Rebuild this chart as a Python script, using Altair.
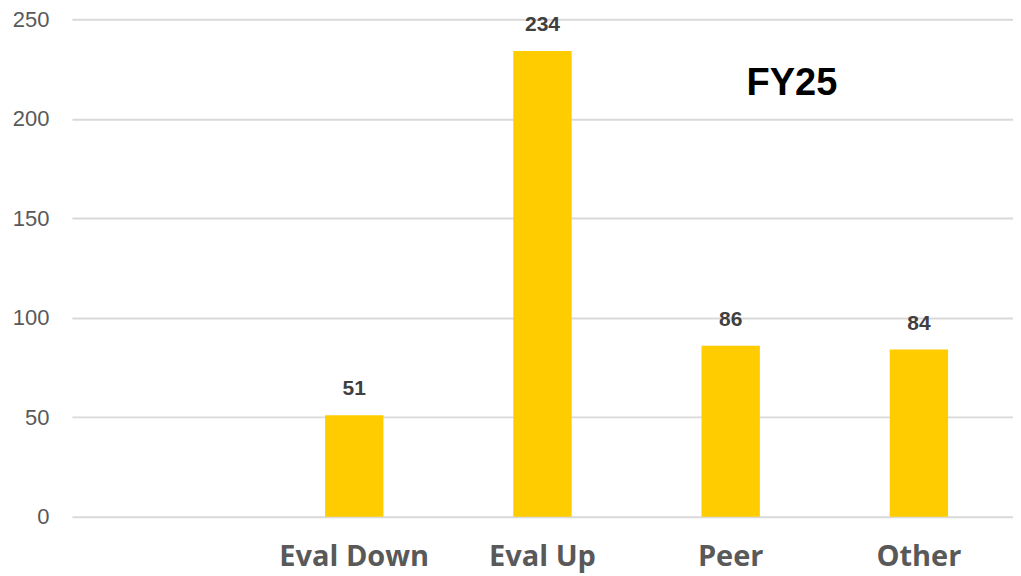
import altair as alt
import pandas as pd

categories = ["Eval Down", "Eval Up", "Peer", "Other"]
values = [51, 234, 86, 84]
domain = [" "] + categories
title_text = "FY25"

df = pd.DataFrame({"category": categories, "value": values})

xscale = alt.Scale(domain=domain, paddingInner=0.69, paddingOuter=0.345)

x = alt.X("category:N", sort=domain, scale=xscale,
          axis=alt.Axis(title=None, labelAngle=0, labelFont="Open Sans", labelFontWeight="bold",
                        labelFontSize=29, labelColor="#595959", labelPadding=49,
                        labelBaseline="alphabetic",
                        ticks=False, domain=False, grid=False))
y = alt.Y("value:Q", scale=alt.Scale(domain=[0, 250], nice=False),
          axis=alt.Axis(title=None, values=[0, 50, 100, 150, 200, 250], labelFont="Liberation Sans",
                        labelFontSize=22, labelColor="#595959", labelPadding=23,
                        ticks=False, domain=False, gridColor="#d9d9d9", gridWidth=2))

bars = alt.Chart(df).mark_bar(color="#FFCC00").encode(x=x, y=y)
labels = alt.Chart(df).mark_text(font="Liberation Sans", fontWeight="bold", fontSize=21,
                                 color="#404040", baseline="middle", dy=-26).encode(
    x=alt.X("category:N", sort=domain, scale=xscale),
    y="value:Q", text="value:Q")

chart = alt.layer(bars, labels).properties(
    width=942, height=498,
    autosize=alt.AutoSizeParams(type="none"),
    padding={"left": 64, "top": 11, "right": 0, "bottom": 58},
    title=alt.TitleParams(title_text, anchor="start", dx=735, dy=118, baseline="middle",
                          font="Liberation Sans", fontSize=38, fontWeight="bold", color="#000000"),
).configure_view(stroke=None)

chart.save("out.html", embed_options={"renderer": "svg", "actions": False})
